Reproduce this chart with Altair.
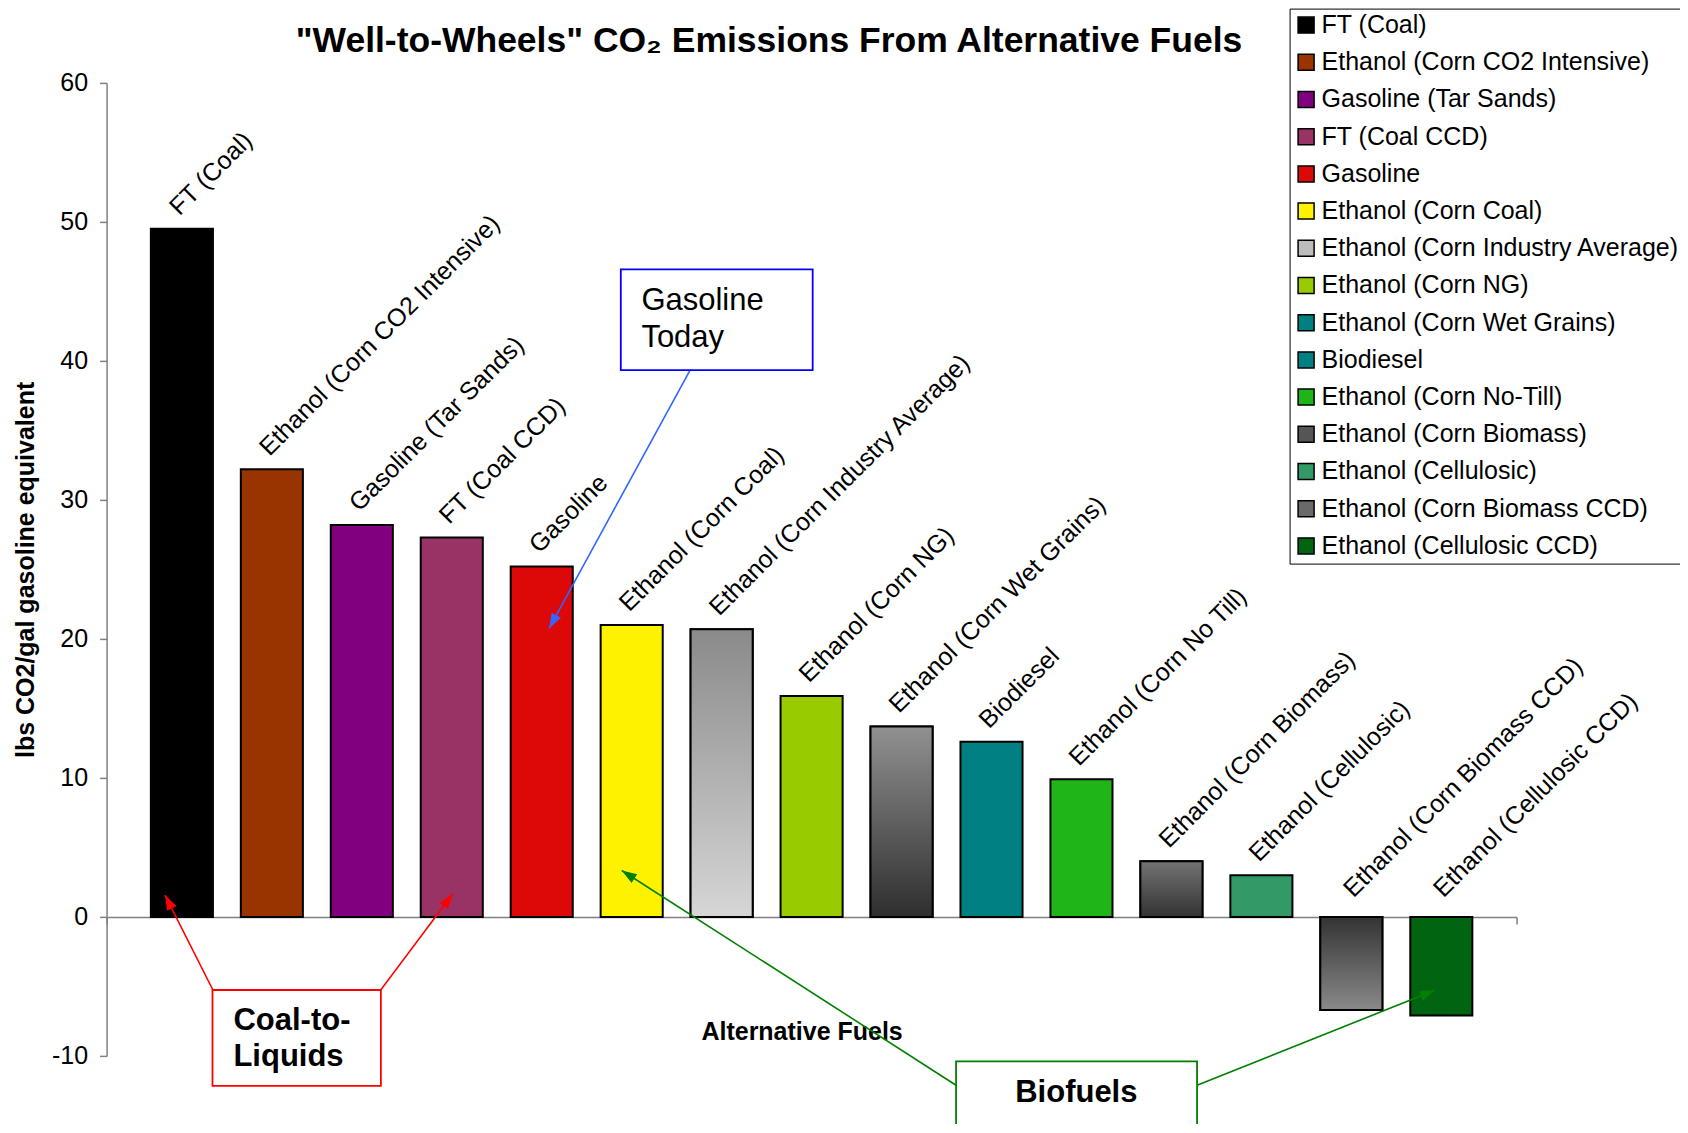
import math
import altair as alt
import pandas as pd

FONT = "Liberation Sans, Arial, Helvetica, sans-serif"

# ---------------- data ----------------
fuels = [
    "FT (Coal)",
    "Ethanol (Corn CO2 Intensive)",
    "Gasoline (Tar Sands)",
    "FT (Coal CCD)",
    "Gasoline",
    "Ethanol (Corn Coal)",
    "Ethanol (Corn Industry Average)",
    "Ethanol (Corn NG)",
    "Ethanol (Corn Wet Grains)",
    "Biodiesel",
    "Ethanol (Corn No-Till)",
    "Ethanol (Corn Biomass)",
    "Ethanol (Cellulosic)",
    "Ethanol (Corn Biomass CCD)",
    "Ethanol (Cellulosic CCD)",
]
bar_labels = [
    "FT (Coal)",
    "Ethanol (Corn CO2 Intensive)",
    "Gasoline (Tar Sands)",
    "FT (Coal CCD)",
    "Gasoline",
    "Ethanol (Corn Coal)",
    "Ethanol (Corn Industry Average)",
    "Ethanol (Corn NG)",
    "Ethanol (Corn Wet Grains)",
    "Biodiesel",
    "Ethanol (Corn No Till)",
    "Ethanol (Corn Biomass)",
    "Ethanol (Cellulosic)",
    "Ethanol (Corn Biomass CCD)",
    "Ethanol (Cellulosic CCD)",
]
values = [49.5, 32.2, 28.2, 27.3, 25.2, 21.0, 20.7, 15.9, 13.7, 12.6, 9.9, 4.0, 3.0, -6.7, -7.1]

legend_colors = [
    "#000000", "#993300", "#800080", "#993366", "#DD0808",
    "#FFF200", "#BDBDBD", "#99CC00", "#008080", "#008080",
    "#1FB518", "#555555", "#339966", "#6A6A6A", "#006411",
]
# bars drawn with a vertical gradient (top colour, bottom colour)
bar_gradients = {
    "Ethanol (Corn Industry Average)": ("#8A8A8A", "#D6D6D6"),
    "Ethanol (Corn Wet Grains)": ("#919191", "#2E2E2E"),
    "Ethanol (Corn Biomass)": ("#737373", "#333333"),
    "Ethanol (Corn Biomass CCD)": ("#333333", "#8A8A8A"),
}

# annotation boxes (data coordinates)
box_x0 = [4.879, 0.340, 8.606]
box_x1 = [7.012, 2.212, 11.285]
box_y0 = [46.59, -5.26, -10.39]
box_y1 = [39.34, -12.15, -17.5]
box_colors = ["#0000FF", "#FF0000", "#008000"]

# annotation texts
note_text = ["Gasoline", "Today", "Coal-to-", "Liquids", "Biofuels"]
note_x = [5.108, 5.108, 0.573, 0.573, 9.943]
note_y = [43.66, 41.02, -8.13, -10.75, -13.32]
note_group = ["plain", "plain", "bold", "bold", "center"]

# annotation arrows (start -> tip, data coordinates)
arrow_x0 = [5.645, 0.345, 2.210, 8.606, 11.285]
arrow_y0 = [39.29, -5.26, -5.26, -12.11, -12.11]
arrow_x1 = [4.082, -0.188, 3.012, 4.890, 13.929]
arrow_y1 = [20.75, 1.57, 1.66, 3.34, -5.28]
arrow_colors = ["#3366FF", "#FF0000", "#FF0000", "#008000", "#008000"]

# ---------------- geometry ----------------
W, H = 1410, 973
X_DOMAIN = [-0.837, 14.837]
Y_DOMAIN = [-10, 60]
BAR_HALF = 0.345
AXIS_GRAY = "#808080"

sx = W / (X_DOMAIN[1] - X_DOMAIN[0])
sy = H / (Y_DOMAIN[1] - Y_DOMAIN[0])

df = pd.DataFrame({"fuel": fuels, "label": bar_labels, "value": values,
                   "idx": list(range(len(fuels)))})
boxes = pd.DataFrame({"x0": box_x0, "x1": box_x1, "y0": box_y0, "y1": box_y1, "col": box_colors})
notes = pd.DataFrame({"t": note_text, "x": note_x, "y": note_y, "g": note_group})
angles = []
for a, b, c, d in zip(arrow_x0, arrow_y0, arrow_x1, arrow_y1):
    dxp = (c - a) * sx
    dyp = -(d - b) * sy
    angles.append((math.degrees(math.atan2(dxp, -dyp)) + 360) % 360)
arrows = pd.DataFrame({"ax0": arrow_x0, "ay0": arrow_y0, "ax1": arrow_x1, "ay1": arrow_y1,
                       "col": arrow_colors, "angle": angles})

xs = alt.Scale(domain=X_DOMAIN, nice=False, zero=False)
ys = alt.Scale(domain=Y_DOMAIN, nice=False, zero=False)

x_axis = alt.Axis(
    values=X_DOMAIN, labels=False, tickSize=7, tickColor=AXIS_GRAY, tickWidth=1.5,
    domainColor=AXIS_GRAY, domainWidth=1.5, grid=False,
    offset=-(H * (0 - Y_DOMAIN[0]) / (Y_DOMAIN[1] - Y_DOMAIN[0])),
    title="Alternative Fuels", titleFont=FONT, titleFontSize=25, titleFontWeight="bold",
    titleColor="black", titleX=695, titleY=123, titleBaseline="alphabetic", titleAlign="center",
)
y_axis = alt.Axis(
    values=list(range(-10, 61, 10)), labelExpr="'' + datum.value",
    labelFont=FONT, labelFontSize=25, labelColor="black", labelPadding=12,
    tickSize=7, tickColor=AXIS_GRAY, tickWidth=1.5,
    domainColor=AXIS_GRAY, domainWidth=1.5, grid=False,
    title="lbs CO2/gal gasoline equivalent", titleFont=FONT, titleFontSize=25,
    titleFontWeight="bold", titleColor="black", titleX=-81, titleY=H / 2,
    titleAngle=270, titleBaseline="middle", titleAlign="center",
)
legend = alt.Legend(
    title=None, orient="none", legendX=1183, legendY=-74.3,
    symbolType="square", symbolSize=256, symbolStrokeColor="black", symbolStrokeWidth=1.5,
    symbolOpacity=1, labelFont=FONT, labelFontSize=25, labelColor="black", labelLimit=700,
    labelOffset=3, rowPadding=11.2, padding=4, strokeColor="black", fillColor="white",
)

base = alt.Chart(df).transform_calculate(
    x0=f"datum.idx - {BAR_HALF}", x1=f"datum.idx + {BAR_HALF}", base="0"
)

bars = base.mark_rect(stroke="black", strokeWidth=2).encode(
    x=alt.X("x0:Q", scale=xs, axis=x_axis), x2="x1:Q",
    y=alt.Y("value:Q", scale=ys, axis=y_axis), y2="base:Q",
    color=alt.Color("fuel:N", scale=alt.Scale(domain=fuels, range=legend_colors), legend=legend),
)

layers = [bars]
for name, (top, bot) in bar_gradients.items():
    layers.append(
        base.transform_filter(alt.datum.fuel == name).mark_rect(
            fill=alt.Gradient(
                gradient="linear",
                stops=[alt.GradientStop(color=top, offset=0), alt.GradientStop(color=bot, offset=1)],
                x1=0, x2=0, y1=0, y2=1,
            ),
            stroke="black", strokeWidth=2,
        ).encode(
            x=alt.X("x0:Q", scale=xs), x2="x1:Q",
            y=alt.Y("value:Q", scale=ys), y2="base:Q",
        )
    )

# bar labels: above the bar top for positive values, above the zero line for negative ones
for cond, ddx, ddy in [("datum.value >= 0", 7.0, -10.5), ("datum.value < 0", 14.5, -11.5)]:
    layers.append(
        alt.Chart(df).transform_filter(cond).transform_calculate(ly="max(datum.value, 0)").mark_text(
            angle=315, align="left", baseline="alphabetic", dx=ddx, dy=ddy,
            font=FONT, fontSize=25, color="black",
        ).encode(
            x=alt.X("idx:Q", scale=xs), y=alt.Y("ly:Q", scale=ys), text="label:N"
        )
    )

box_layer = alt.Chart(boxes).mark_rect(fill="white", strokeWidth=1.8).encode(
    x=alt.X("x0:Q", scale=xs), x2="x1:Q",
    y=alt.Y("y0:Q", scale=ys), y2="y1:Q",
    stroke=alt.Stroke("col:N", scale=None),
)
layers.append(box_layer)

for grp, weight, align in [("plain", "normal", "left"), ("bold", "bold", "left"), ("center", "bold", "center")]:
    layers.append(
        alt.Chart(notes).transform_filter(alt.datum.g == grp).mark_text(
            font=FONT, fontSize=31, fontWeight=weight, align=align, baseline="alphabetic", color="black"
        ).encode(
            x=alt.X("x:Q", scale=xs), y=alt.Y("y:Q", scale=ys), text="t:N"
        )
    )

arrow_lines = alt.Chart(arrows).mark_rule(strokeWidth=1.6).encode(
    x=alt.X("ax0:Q", scale=xs), x2="ax1:Q",
    y=alt.Y("ay0:Q", scale=ys), y2="ay1:Q",
    color=alt.Color("col:N", scale=None),
)
arrow_heads = alt.Chart(arrows).mark_point(
    shape="M0,0L0.35,1L-0.35,1Z", filled=True, size=900, opacity=1, strokeWidth=0
).encode(
    x=alt.X("ax1:Q", scale=xs), y=alt.Y("ay1:Q", scale=ys),
    angle=alt.Angle("angle:Q", scale=None),
    color=alt.Color("col:N", scale=None),
)
layers += [arrow_lines, arrow_heads]

chart = alt.layer(*layers).properties(
    width=W, height=H,
    title=alt.TitleParams(
        text='"Well-to-Wheels" CO\u2082 Emissions From Alternative Fuels',
        font=FONT, fontSize=35.5, fontWeight="bold", color="black",
        anchor="middle", frame="group", dx=-42.6, dy=108.8, offset=29, baseline="alphabetic",
    ),
    autosize=alt.AutoSizeParams(type="none"),
    padding={"left": 98.6, "top": 74.9, "right": 163, "bottom": 68},
    background="white",
).configure_view(stroke=None)

chart.save("out.html", embed_options={"renderer": "svg", "actions": False})
